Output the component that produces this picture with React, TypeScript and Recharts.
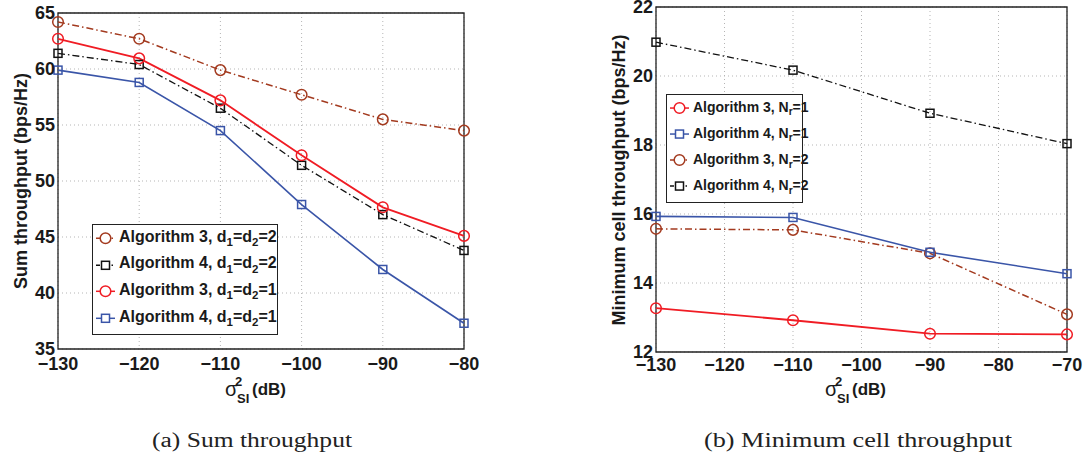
import React from "react";
import { CartesianGrid, Legend, Line, LineChart, ReferenceArea, XAxis, YAxis } from "recharts";

// (a) sum throughput vs sigma_SI^2
const sigmaSum = [-130, -120, -110, -100, -90, -80];
const alg3D2 = [64.2, 62.7, 59.9, 57.7, 55.5, 54.5];
const alg4D2 = [61.4, 60.4, 56.5, 51.4, 47.0, 43.8];
const alg3D1 = [62.7, 60.95, 57.2, 52.3, 47.65, 45.1];
const alg4D1 = [59.9, 58.8, 54.5, 47.9, 42.1, 37.3];
const sumTicksX = [-130, -120, -110, -100, -90, -80];
const sumTicksY = [35, 40, 45, 50, 55, 60, 65];

// (b) minimum cell throughput vs sigma_SI^2
const sigmaMin = [-130, -110, -90, -70];
const alg3N1 = [13.27, 12.92, 12.53, 12.51];
const alg4N1 = [15.93, 15.9, 14.89, 14.27];
const alg3N2 = [15.57, 15.54, 14.86, 13.09];
const alg4N2 = [20.98, 20.17, 18.92, 18.04];
const minTicksX = [-130, -120, -110, -100, -90, -80, -70];
const minTicksY = [12, 14, 16, 18, 20, 22];

const BROWN = "#a33a1f";
const RED = "#f01c24";
const BLUE = "#3a55a8";
const BLACK = "#111111";
const DASHDOT = "7 3 1.5 3";
const FONT = "'Liberation Sans', Arial, sans-serif";

const sumData = sigmaSum.map((s, i) => ({
  s,
  a3d2: alg3D2[i],
  a4d2: alg4D2[i],
  a3d1: alg3D1[i],
  a4d1: alg4D1[i],
}));

const minData = sigmaMin.map((s, i) => ({
  s,
  a3n1: alg3N1[i],
  a4n1: alg4N1[i],
  a3n2: alg3N2[i],
  a4n2: alg4N2[i],
}));

const fmt = (v: number) => (v < 0 ? `\u2212${-v}` : `${v}`);
const tickStyle = { fontFamily: FONT, fontWeight: 700, fontSize: 18, fill: "#1a1a1a" };

const circleDot = (color: string) => (p: any) => (
  <circle key={`c-${p.index}`} cx={p.cx} cy={p.cy} r={5.3} fill="none" stroke={color} strokeWidth={1.5} />
);
const squareDot = (color: string) => (p: any) => (
  <rect key={`s-${p.index}`} x={p.cx - 4} y={p.cy - 4} width={8} height={8} fill="none" stroke={color} strokeWidth={1.5} />
);

type Item = { text: React.ReactNode; color: string; dash?: string; marker: "circle" | "square" };

const Sub = ({ children }: { children: React.ReactNode }) => (
  <span style={{ fontSize: "0.72em", position: "relative", top: "0.38em" }}>{children}</span>
);

function LegendBox({ items, fontSize, rowH, width }: { items: Item[]; fontSize: number; rowH: number; width: number }) {
  return (
    <div
      style={{
        width,
        border: "1.5px solid #222",
        background: "#fff",
        paddingBottom: 3,
        boxSizing: "border-box",
        fontFamily: FONT,
        fontWeight: 700,
        fontSize,
        color: "#1a1a1a",
      }}
    >
      {items.map((it, i) => (
        <div key={i} style={{ height: rowH, display: "flex", alignItems: "center", whiteSpace: "nowrap", lineHeight: 1 }}>
          <svg width={26} height={rowH} style={{ flex: "none" }}>
            <line x1={3} x2={22} y1={rowH / 2} y2={rowH / 2} stroke={it.color} strokeWidth={1.5} strokeDasharray={it.dash ? "4 2 1.5 2" : undefined} />
            {it.marker === "circle" ? (
              <circle cx={12.5} cy={rowH / 2} r={5.3} fill="#fff" stroke={it.color} strokeWidth={1.5} />
            ) : (
              <rect x={8.5} y={rowH / 2 - 4} width={8} height={8} fill="#fff" stroke={it.color} strokeWidth={1.5} />
            )}
          </svg>
          <span style={{ marginTop: -3 }}>{it.text}</span>
        </div>
      ))}
    </div>
  );
}

const sumItems: Item[] = [
  { text: <>Algorithm 3, d<Sub>1</Sub>=d<Sub>2</Sub>=2</>, color: BROWN, dash: DASHDOT, marker: "circle" },
  { text: <>Algorithm 4, d<Sub>1</Sub>=d<Sub>2</Sub>=2</>, color: BLACK, dash: DASHDOT, marker: "square" },
  { text: <>Algorithm 3, d<Sub>1</Sub>=d<Sub>2</Sub>=1</>, color: RED, marker: "circle" },
  { text: <>Algorithm 4, d<Sub>1</Sub>=d<Sub>2</Sub>=1</>, color: BLUE, marker: "square" },
];

const minItems: Item[] = [
  { text: <>Algorithm 3, N<Sub>r</Sub>=1</>, color: RED, marker: "circle" },
  { text: <>Algorithm 4, N<Sub>r</Sub>=1</>, color: BLUE, marker: "square" },
  { text: <>Algorithm 3, N<Sub>r</Sub>=2</>, color: BROWN, dash: DASHDOT, marker: "circle" },
  { text: <>Algorithm 4, N<Sub>r</Sub>=2</>, color: BLACK, dash: DASHDOT, marker: "square" },
];

function SigmaLabel({ x }: { x: number }) {
  return (
    <g fontFamily={FONT} fill="#1a1a1a">
      <text x={x} y={396} fontSize={20}>σ</text>
      <text x={x + 10} y={386} fontSize={13} fontWeight={700}>2</text>
      <text x={x + 12} y={403} fontSize={13} fontWeight={700}>SI</text>
      <text x={x + 27} y={395} fontSize={17} fontWeight={700}>(dB)</text>
    </g>
  );
}

export default function App() {
  return (
    <div style={{ position: "absolute", left: 0, top: 0, width: 1091, height: 457, background: "#fff" }}>
      <div style={{ position: "absolute", left: 0, top: 0 }}>
        <LineChart width={545} height={400} data={sumData} margin={{ top: 13, right: 81, bottom: 0, left: 0 }}>
          <CartesianGrid stroke="#b5b5b5" strokeDasharray="1 3" />
          <XAxis dataKey="s" type="number" domain={[-130, -80]} ticks={sumTicksX} tickFormatter={fmt} height={51}
            axisLine={false} tickLine={false} tickSize={3} tickMargin={5} tick={tickStyle} interval={0} />
          <YAxis type="number" domain={[35, 65]} ticks={sumTicksY} width={58}
            axisLine={false} tickLine={false} tickSize={1} tickMargin={2} tick={tickStyle} interval={0} />
          <ReferenceArea x1={-130} x2={-80} y1={35} y2={65} fill="none" stroke="#222" strokeWidth={1.3} ifOverflow="visible" />
          <Line dataKey="a3d2" stroke={BROWN} strokeWidth={1.5} strokeDasharray={DASHDOT} dot={circleDot(BROWN)} isAnimationActive={false} />
          <Line dataKey="a4d2" stroke={BLACK} strokeWidth={1.3} strokeDasharray={DASHDOT} dot={squareDot(BLACK)} isAnimationActive={false} />
          <Line dataKey="a3d1" stroke={RED} strokeWidth={1.8} dot={circleDot(RED)} isAnimationActive={false} />
          <Line dataKey="a4d1" stroke={BLUE} strokeWidth={1.6} dot={squareDot(BLUE)} isAnimationActive={false} />
          <Legend layout="vertical" align="center" verticalAlign="middle"
            wrapperStyle={{ left: 92, top: 224, width: 186 }}
            content={() => <LegendBox items={sumItems} fontSize={16} rowH={26.6} width={186} />} />
        </LineChart>
      </div>
      <div style={{ position: "absolute", left: 545, top: 0 }}>
        <LineChart width={546} height={400} data={minData} margin={{ top: 7, right: 24, bottom: 0, left: 0 }}>
          <CartesianGrid stroke="#b5b5b5" strokeDasharray="1 3" />
          <XAxis dataKey="s" type="number" domain={[-130, -70]} ticks={minTicksX} tickFormatter={fmt} height={48}
            axisLine={false} tickLine={false} tickSize={3} tickMargin={3} tick={tickStyle} interval={0} />
          <YAxis type="number" domain={[12, 22]} ticks={minTicksY} width={111}
            axisLine={false} tickLine={false} tickSize={1} tickMargin={2} tick={tickStyle} interval={0} />
          <ReferenceArea x1={-130} x2={-70} y1={12} y2={22} fill="none" stroke="#222" strokeWidth={1.3} ifOverflow="visible" />
          <Line dataKey="a4n2" stroke={BLACK} strokeWidth={1.3} strokeDasharray={DASHDOT} dot={squareDot(BLACK)} isAnimationActive={false} />
          <Line dataKey="a3n2" stroke={BROWN} strokeWidth={1.5} strokeDasharray={DASHDOT} dot={circleDot(BROWN)} isAnimationActive={false} />
          <Line dataKey="a4n1" stroke={BLUE} strokeWidth={1.6} dot={squareDot(BLUE)} isAnimationActive={false} />
          <Line dataKey="a3n1" stroke={RED} strokeWidth={1.8} dot={circleDot(RED)} isAnimationActive={false} />
          <Legend layout="vertical" align="center" verticalAlign="middle"
            wrapperStyle={{ left: 121, top: 94, width: 137 }}
            content={() => <LegendBox items={minItems} fontSize={14} rowH={26.1} width={137} />} />
        </LineChart>
      </div>
      <svg width={1091} height={457} style={{ position: "absolute", left: 0, top: 0, pointerEvents: "none" }}>
        <g fontFamily={FONT} fontWeight={700} fontSize={18} fill="#1a1a1a" textAnchor="middle">
          <text transform="translate(21,181) rotate(-90)" dominantBaseline="central">Sum throughput (bps/Hz)</text>
          <text transform="translate(619,180) rotate(-90)" dominantBaseline="central">Minimum cell throughput (bps/Hz)</text>
        </g>
        <SigmaLabel x={225} />
        <SigmaLabel x={825} />
        <g fontFamily="'Liberation Serif', 'Times New Roman', serif" fontSize={20} fill="#222">
          <text x={152} y={447} textLength={200} lengthAdjust="spacingAndGlyphs">(a) Sum throughput</text>
          <text x={704} y={447} textLength={308} lengthAdjust="spacingAndGlyphs">(b) Minimum cell throughput</text>
        </g>
      </svg>
    </div>
  );
}
